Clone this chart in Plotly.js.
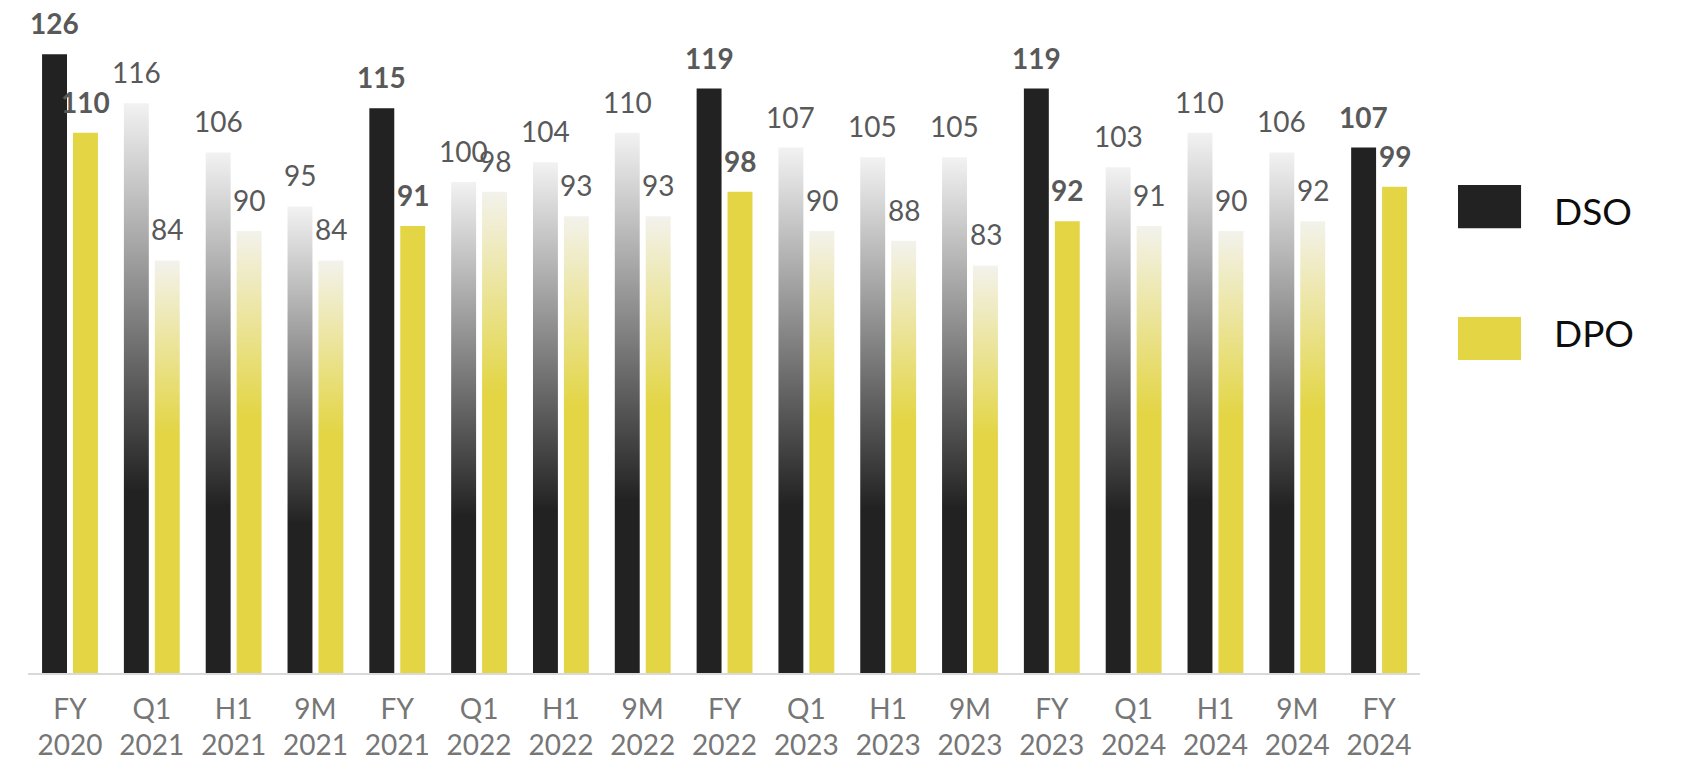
<!DOCTYPE html>
<html>
<head>
<meta charset="utf-8">
<script src="https://cdn.plot.ly/plotly-3.0.1.min.js"></script>
<style>
  html, body { margin: 0; padding: 0; background: #ffffff; }
  #chart { width: 1684px; height: 762px; }
</style>
</head>
<body>
<div id="chart"></div>
<script>
// ---- data ----
const periods = ['FY','Q1','H1','9M','FY','Q1','H1','9M','FY','Q1','H1','9M','FY','Q1','H1','9M','FY'];
const years   = ['2020','2021','2021','2021','2021','2022','2022','2022','2022','2023','2023','2023','2023','2024','2024','2024','2024'];
const dsoValues = [126,116,106,95,115,100,104,110,119,107,105,105,119,103,110,106,107];
const dpoValues = [110,84,90,84,91,98,93,93,98,90,88,83,92,91,90,92,99];
const seriesNames = ['DSO','DPO'];

const categories = periods.map((p, i) => p + '<br>' + years[i]);
const isFY = periods.map(p => p === 'FY');

const DARK = '#222222';
const YELLOW = '#e3d544';
const FONT = 'Lato, "Open Sans", sans-serif';

const data = [
  {
    type: 'bar', name: seriesNames[0], x: categories, y: dsoValues,
    marker: { color: DARK, line: { width: 0 } },
    hoverinfo: 'skip', showlegend: false
  },
  {
    type: 'bar', name: seriesNames[1], x: categories, y: dpoValues,
    marker: { color: YELLOW, line: { width: 0 } },
    hoverinfo: 'skip', showlegend: false
  }
];

const annotations = [];
[dsoValues, dpoValues].forEach((vals, s) => {
  vals.forEach((v, i) => {
    annotations.push({
      x: categories[i], y: v, xref: 'x', yref: 'y',
      text: isFY[i] ? '<b>' + v + '</b>' : String(v),
      showarrow: false, xanchor: 'center', yanchor: 'bottom',
      xshift: s === 0 ? -15.5 : 15.5, yshift: 12,
      font: { family: FONT, size: 28, color: '#595959' }
    });
  });
});
// legend labels
annotations.push({ xref: 'paper', yref: 'paper', x: 1.095, y: 0.698, text: seriesNames[0],
  showarrow: false, xanchor: 'left', yanchor: 'middle', font: { family: FONT, size: 37, color: '#0d0d0d' } });
annotations.push({ xref: 'paper', yref: 'paper', x: 1.095, y: 0.513, text: seriesNames[1],
  showarrow: false, xanchor: 'left', yanchor: 'middle', font: { family: FONT, size: 37, color: '#0d0d0d' } });

const shapes = [
  { type: 'rect', xref: 'paper', yref: 'paper', x0: 1.0273, x1: 1.0726, y0: 0.671, y1: 0.736,
    fillcolor: DARK, line: { width: 0 } },
  { type: 'rect', xref: 'paper', yref: 'paper', x0: 1.0273, x1: 1.0726, y0: 0.472, y1: 0.537,
    fillcolor: YELLOW, line: { width: 0 } }
];

const layout = {
  width: 1684, height: 762,
  margin: { l: 28, r: 264, t: 10, b: 89 },
  paper_bgcolor: '#ffffff', plot_bgcolor: '#ffffff',
  barmode: 'group', bargap: 0.244, bargroupgap: 0.194,
  showlegend: false,
  font: { family: FONT, color: '#767676' },
  xaxis: {
    type: 'category', showgrid: false, zeroline: false,
    showline: true, linecolor: '#d9d9d9', linewidth: 2,
    ticks: '', tickfont: { family: FONT, size: 28, color: '#767676' },
    ticklabelstandoff: 10
  },
  yaxis: {
    range: [0, 135], visible: false, showgrid: false, zeroline: false, fixedrange: true
  },
  annotations: annotations,
  shapes: shapes
};

Plotly.newPlot('chart', data, layout, { staticPlot: true, displayModeBar: false }).then(gd => {
  const ns = 'http://www.w3.org/2000/svg';
  const svg = gd.querySelector('.main-svg');
  const defs = document.createElementNS(ns, 'defs');
  svg.insertBefore(defs, svg.firstChild);
  function grad(id, stops) {
    const g = document.createElementNS(ns, 'linearGradient');
    g.setAttribute('id', id);
    g.setAttribute('x1', '0'); g.setAttribute('y1', '0');
    g.setAttribute('x2', '0'); g.setAttribute('y2', '1');
    stops.forEach(([o, c]) => {
      const s = document.createElementNS(ns, 'stop');
      s.setAttribute('offset', o);
      s.setAttribute('stop-color', c);
      g.appendChild(s);
    });
    defs.appendChild(g);
  }
  grad('gradDSO', [[0, '#f2f2f2'], [0.68, DARK], [1, DARK]]);
  grad('gradDPO', [[0, '#f3f2ec'], [0.42, YELLOW], [1, YELLOW]]);
  const ids = ['gradDSO', 'gradDPO'];
  gd.querySelectorAll('.barlayer .trace').forEach((tr, ti) => {
    tr.querySelectorAll('.point').forEach((pt, i) => {
      if (!isFY[i]) {
        const p = pt.querySelector('path');
        if (p) p.style.fill = 'url(#' + ids[ti] + ')';
      }
    });
  });
});
</script>
</body>
</html>
